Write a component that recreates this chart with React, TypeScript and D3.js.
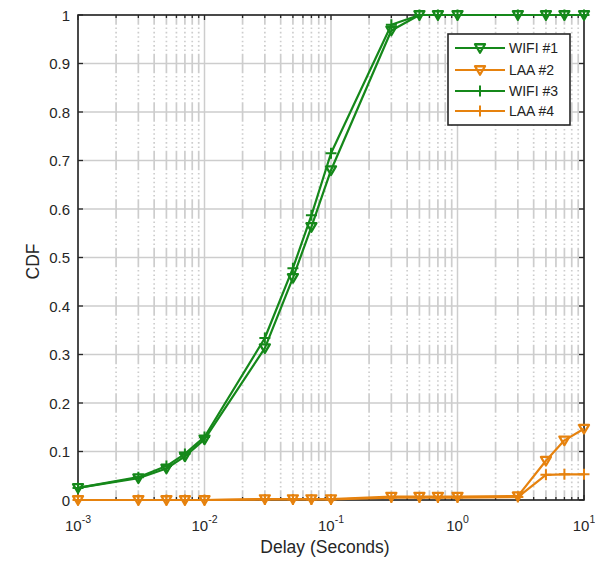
import React from "react";
import * as d3 from "d3";

// Delay values (seconds) at which each CDF was sampled
const delays = [0.001, 0.003, 0.005, 0.007, 0.01, 0.03, 0.05, 0.07, 0.1, 0.3, 0.5, 0.7, 1, 3, 5, 7, 10];

const wifi1 = [0.025, 0.045, 0.065, 0.09, 0.125, 0.313, 0.458, 0.563, 0.68, 0.968, 1, 1, 1, 1, 1, 1, 1];
const laa2 = [0, 0, 0, 0, 0, 0.002, 0.002, 0.002, 0.002, 0.007, 0.007, 0.007, 0.007, 0.008, 0.081, 0.123, 0.147];
const wifi3 = [0.025, 0.047, 0.07, 0.095, 0.13, 0.334, 0.478, 0.587, 0.715, 0.98, 1, 1, 1, 1, 1, 1, 1];
const laa4 = [0, 0, 0, 0, 0, 0.001, 0.001, 0.001, 0.001, 0.005, 0.005, 0.005, 0.005, 0.006, 0.052, 0.053, 0.053];

const seriesNames = ["WIFI #1", "LAA #2", "WIFI #3", "LAA #4"];
const yTicks = [0, 0.1, 0.2, 0.3, 0.4, 0.5, 0.6, 0.7, 0.8, 0.9, 1];
const xDecades = [-3, -2, -1, 0, 1];

const GREEN = "#15881a";
const ORANGE = "#e6820e";
const AXIS = "#262626";
const GRID = "#cdcdcd";

const W = 595;
const H = 561;
const left = 78;
const right = 584;
const top = 15;
const bottom = 500;

type Series = { name: string; values: number[]; color: string; marker: "tri" | "plus" };

const series: Series[] = [
  { name: seriesNames[0], values: wifi1, color: GREEN, marker: "tri" },
  { name: seriesNames[1], values: laa2, color: ORANGE, marker: "tri" },
  { name: seriesNames[2], values: wifi3, color: GREEN, marker: "plus" },
  { name: seriesNames[3], values: laa4, color: ORANGE, marker: "plus" },
];

function Marker({ kind, x, y, color }: { kind: "tri" | "plus"; x: number; y: number; color: string }) {
  if (kind === "tri") {
    const s = 5;
    const pts = `${x - s},${y - s * 0.75} ${x + s},${y - s * 0.75} ${x},${y + s * 0.95}`;
    return <polygon points={pts} fill="none" stroke={color} strokeWidth={2.3} strokeLinejoin="round" />;
  }
  const s = 5.5;
  return (
    <path d={`M${x - s},${y}H${x + s}M${x},${y - s}V${y + s}`} stroke={color} strokeWidth={2} fill="none" />
  );
}

export default function App() {
  const x = d3.scaleLog().domain([1e-3, 10]).range([left, right]);
  const y = d3.scaleLinear().domain([0, 1]).range([bottom, top]);

  const minorX: number[] = [];
  for (const e of [-3, -2, -1, 0]) {
    for (let k = 2; k <= 9; k++) minorX.push(k * Math.pow(10, e));
  }

  // Minor grid dash pattern: a solid stretch across each major row, dotted between
  const h = y(0) - y(0.1);
  const solid = h * 0.4;
  const rest = h - solid;
  const n = Math.round(rest / 4);
  const dot = 1.6;
  const gap = (rest - (n - 1) * dot) / n;
  const pattern: number[] = [solid, gap];
  for (let i = 0; i < n - 1; i++) pattern.push(dot, gap);
  const dashArray = pattern.map((v) => v.toFixed(3)).join(" ");

  const line = d3
    .line<number>()
    .x((_, i) => x(delays[i]))
    .y((v) => y(v));

  const legendX = 448;
  const legendY = 34;
  const legendW = 122;
  const legendH = 91;
  const rowY = [48, 70, 91, 111];

  return (
    <svg
      width={W}
      height={H}
      viewBox={`0 0 ${W} ${H}`}
      style={{ position: "absolute", left: 0, top: 0, background: "#fff" }}
      fontFamily="'Liberation Sans', Arial, Helvetica, sans-serif"
    >
      <rect x={0} y={0} width={W} height={H} fill="#fff" />
      <rect x={left} y={top} width={right - left} height={bottom - top} fill="#fff" />

      {/* grid */}
      <g>
        {minorX.map((v) => (
          <line
            key={`mx${v}`}
            x1={x(v)}
            x2={x(v)}
            y1={top}
            y2={bottom}
            stroke={GRID}
            strokeWidth={1.7}
            strokeDasharray={dashArray}
            strokeDashoffset={solid / 2 + (y(1) - top)}
          />
        ))}
        {xDecades.map((e) => (
          <line key={`gx${e}`} x1={x(Math.pow(10, e))} x2={x(Math.pow(10, e))} y1={top} y2={bottom} stroke={GRID} strokeWidth={1.5} />
        ))}
        {yTicks.map((t) => (
          <line key={`gy${t}`} x1={left} x2={right} y1={y(t)} y2={y(t)} stroke={GRID} strokeWidth={1.5} />
        ))}
      </g>

      {/* axes box and ticks */}
      <g stroke={AXIS} strokeWidth={1.3}>
        <rect x={left} y={top} width={right - left} height={bottom - top} fill="none" strokeWidth={1.6} />
        {yTicks.map((t) => (
          <g key={`ty${t}`}>
            <line x1={left} x2={left + 5} y1={y(t)} y2={y(t)} />
            <line x1={right} x2={right - 5} y1={y(t)} y2={y(t)} />
          </g>
        ))}
        {xDecades.map((e) => (
          <g key={`tx${e}`}>
            <line x1={x(Math.pow(10, e))} x2={x(Math.pow(10, e))} y1={bottom} y2={bottom - 5} />
            <line x1={x(Math.pow(10, e))} x2={x(Math.pow(10, e))} y1={top} y2={top + 5} />
          </g>
        ))}
        {minorX.map((v) => (
          <g key={`tmx${v}`}>
            <line x1={x(v)} x2={x(v)} y1={bottom} y2={bottom - 3} />
            <line x1={x(v)} x2={x(v)} y1={top} y2={top + 3} />
          </g>
        ))}
      </g>

      {/* data */}
      {series.map((s) => (
        <g key={s.name}>
          <path d={line(s.values) || ""} fill="none" stroke={s.color} strokeWidth={2.2} strokeLinejoin="round" />
          {s.values.map((v, i) => (
            <Marker key={i} kind={s.marker} x={x(delays[i])} y={y(v)} color={s.color} />
          ))}
        </g>
      ))}

      {/* tick labels */}
      <g fill={AXIS} fontSize={15}>
        {yTicks.map((t) => (
          <text key={`ly${t}`} x={left - 8} y={y(t)} textAnchor="end" dominantBaseline="central">
            {d3.format("~g")(t)}
          </text>
        ))}
        {xDecades.map((e) => (
          <text key={`lx${e}`} x={x(Math.pow(10, e))} y={bottom + 31} textAnchor="middle">
            <tspan>10</tspan>
            <tspan fontSize={10.5} dy={-8}>
              {e}
            </tspan>
          </text>
        ))}
      </g>

      {/* axis titles */}
      <text x={325} y={bottom + 53} textAnchor="middle" fontSize={17.5} fill={AXIS}>
        Delay (Seconds)
      </text>
      <text
        transform={`translate(${33},${(top + bottom) / 2 + 4}) rotate(-90)`}
        textAnchor="middle"
        dominantBaseline="central"
        fontSize={17.5}
        fill={AXIS}
      >
        CDF
      </text>

      {/* legend */}
      <g>
        <rect x={legendX} y={legendY} width={legendW} height={legendH} fill="#fff" stroke={AXIS} strokeWidth={1.6} />
        {series.map((s, i) => (
          <g key={`lg${s.name}`}>
            <line x1={455} x2={505} y1={rowY[i]} y2={rowY[i]} stroke={s.color} strokeWidth={2.2} />
            <Marker kind={s.marker} x={480} y={rowY[i]} color={s.color} />
            <text x={509} y={rowY[i]} dominantBaseline="central" fontSize={14} fill="#222">
              {s.name}
            </text>
          </g>
        ))}
      </g>
    </svg>
  );
}
